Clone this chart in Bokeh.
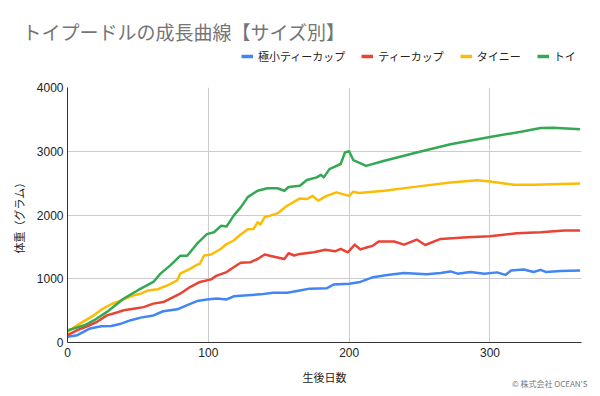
from bokeh.plotting import figure
from bokeh.layouts import column
from bokeh.models import Range1d, Legend, LegendItem, FixedTicker, ColumnDataSource, Title
from bokeh.embed import file_html
from bokeh.resources import INLINE

# ---- data ----
title_text = "トイプードルの成長曲線【サイズ別】"
series_names = ["極小ティーカップ", "ティーカップ", "タイニー", "トイ"]
series_colors = ["#4285F4", "#EA4335", "#FBBC04", "#34A853"]

blue_days = [0, 7, 16, 24, 31, 38, 45, 52, 61, 68, 78, 85, 92, 99, 106, 113, 118, 128, 137, 146, 156,
             165, 172, 184, 189, 200, 208, 217, 227, 239, 255, 265, 272, 277, 286, 296, 305, 311, 315,
             324, 331, 336, 340, 350, 364]
blue_vals = [90, 115, 220, 255, 260, 295, 350, 390, 425, 490, 520, 585, 650, 675, 690, 675, 725, 740, 755,
             780, 780, 815, 845, 850, 910, 920, 950, 1025, 1060, 1090, 1070, 1090, 1115, 1080, 1105, 1080,
             1100, 1060, 1130, 1145, 1105, 1140, 1105, 1120, 1130]

red_days = [0, 7, 14, 21, 28, 35, 40, 47, 54, 61, 68, 73, 80, 87, 94, 102, 106, 113, 118, 123, 130, 135,
            140, 146, 154, 157, 161, 165, 175, 183, 190, 194, 199, 204, 208, 213, 217, 221, 232, 239, 248,
            254, 265, 284, 300, 319, 336, 353, 364]
red_vals = [115, 195, 255, 325, 425, 470, 505, 530, 555, 610, 635, 690, 765, 870, 950, 990, 1050, 1105,
            1180, 1250, 1260, 1310, 1380, 1350, 1310, 1400, 1365, 1390, 1415, 1455, 1430, 1470, 1415, 1535,
            1460, 1495, 1520, 1585, 1585, 1535, 1615, 1530, 1625, 1650, 1665, 1715, 1730, 1755, 1755]

yellow_days = [0, 9, 16, 19, 24, 31, 38, 47, 52, 57, 64, 71, 78, 80, 87, 92, 94, 97, 102, 109, 113, 118,
               123, 128, 132, 135, 137, 140, 144, 149, 156, 165, 170, 174, 178, 184, 191, 200, 203, 207,
               225, 248, 272, 291, 300, 317, 331, 364]
yellow_vals = [165, 300, 390, 430, 515, 600, 660, 740, 765, 815, 835, 895, 975, 1080, 1155, 1220, 1235,
               1365, 1380, 1470, 1545, 1600, 1695, 1775, 1780, 1885, 1850, 1965, 1990, 2025, 2145, 2260,
               2250, 2300, 2225, 2300, 2355, 2300, 2365, 2345, 2380, 2445, 2510, 2545, 2525, 2475, 2475, 2495]

green_days = [0, 12, 19, 28, 40, 50, 61, 66, 73, 80, 85, 92, 99, 104, 109, 113, 118, 123, 128, 135, 142,
              149, 154, 157, 165, 170, 177, 180, 182, 186, 194, 197, 200, 203, 212, 225, 248, 272, 300,
              322, 336, 345, 364]
green_vals = [190, 270, 350, 480, 690, 820, 950, 1080, 1210, 1360, 1360, 1550, 1700, 1730, 1830, 1820,
              1990, 2120, 2280, 2380, 2420, 2420, 2380, 2440, 2460, 2550, 2590, 2630, 2590, 2720, 2800,
              2980, 3000, 2860, 2770, 2850, 2980, 3110, 3225, 3305, 3365, 3370, 3345]

x_ticks = [0, 100, 200, 300]
y_ticks = [0, 1000, 2000, 3000, 4000]
x_label = "生後日数"
y_label = "体重（グラム）"
credit_text = "© 株式会社 OCEAN'S"

JP = "Noto Sans CJK JP"
LAT = "Liberation Sans"
W = 592
HEAD_H = 79

all_series = [(blue_days, blue_vals), (red_days, red_vals), (yellow_days, yellow_vals), (green_days, green_vals)]
sources = [ColumnDataSource(dict(x=d, y=v)) for d, v in all_series]

# ---------- header: title + legend (its data view is kept off-range) ----------
head = figure(width=W, height=HEAD_H, output_backend="svg", toolbar_location=None,
              x_range=Range1d(-20, -10), y_range=Range1d(-20, -10), x_axis_type=None, y_axis_type=None,
              min_border_left=0, min_border_right=0, min_border_bottom=0, min_border_top=48)
head.outline_line_color = None
head.grid.visible = False
head.background_fill_color = "white"
head.border_fill_color = "white"
head.title.text = title_text
head.title.align = "left"
head.title.offset = -45
head.title.standoff = 7
head.title.text_font = JP
head.title.text_font_size = "19px"
head.title.text_font_style = "normal"
head.title.text_color = "#757575"
key_renderers = [head.line("x", "y", source=s, line_color=c, line_width=3.5) for s, c in zip(sources, series_colors)]
legend = Legend(items=[LegendItem(label=n, renderers=[r]) for n, r in zip(series_names, key_renderers)],
                orientation="horizontal", location=(174, 15),
                glyph_width=12, glyph_height=10, label_height=10, label_standoff=5, spacing=16,
                padding=0, margin=0, border_line_color=None, background_fill_alpha=0,
                label_text_font=JP, label_text_font_size="11px", label_text_color="#222222")
head.add_layout(legend, "center")

# ---------- main chart ----------
p = figure(width=W, height=388 - HEAD_H, output_backend="svg", toolbar_location=None,
           x_range=Range1d(0, 365), y_range=Range1d(0, 4000),
           min_border_left=67, min_border_right=11, min_border_top=8, min_border_bottom=46)
p.outline_line_color = None
p.background_fill_color = "white"
p.border_fill_color = "white"

for s, c in zip(sources, series_colors):
    p.line("x", "y", source=s, line_color=c, line_width=2.5, line_join="round")

p.xaxis.ticker = FixedTicker(ticks=x_ticks)
p.yaxis.ticker = FixedTicker(ticks=y_ticks)
for ax in (p.xaxis[0], p.yaxis[0]):
    ax.major_tick_line_color = None
    ax.minor_tick_line_color = None
    ax.major_tick_in = 0
    ax.major_tick_out = 0
    ax.axis_line_color = "#333333"
    ax.axis_line_width = 1
    ax.major_label_text_font = LAT
    ax.major_label_text_font_size = "12px"
    ax.major_label_text_color = "#222222"
    ax.axis_label_text_font = JP
    ax.axis_label_text_font_size = "11px"
    ax.axis_label_text_font_style = "normal"
    ax.axis_label_text_color = "#222222"
p.xaxis.axis_label = x_label
p.yaxis.axis_label = y_label
p.xaxis.major_label_standoff = 5
p.xaxis.axis_label_standoff = 9
p.yaxis.major_label_standoff = 4
p.yaxis.axis_label_standoff = 7

p.xgrid.ticker = FixedTicker(ticks=x_ticks)
p.ygrid.ticker = FixedTicker(ticks=y_ticks)
p.grid.grid_line_color = "#cccccc"
p.grid.grid_line_width = 1

p.add_layout(Title(text=credit_text, align="right", vertical_align="top", text_font=JP,
                   text_font_size="8px", text_font_style="normal", text_color="#777777",
                   standoff=-20, offset=-6), "below")

layout = column(head, p, spacing=0)
open("out.html", "w").write(file_html(layout, INLINE))
